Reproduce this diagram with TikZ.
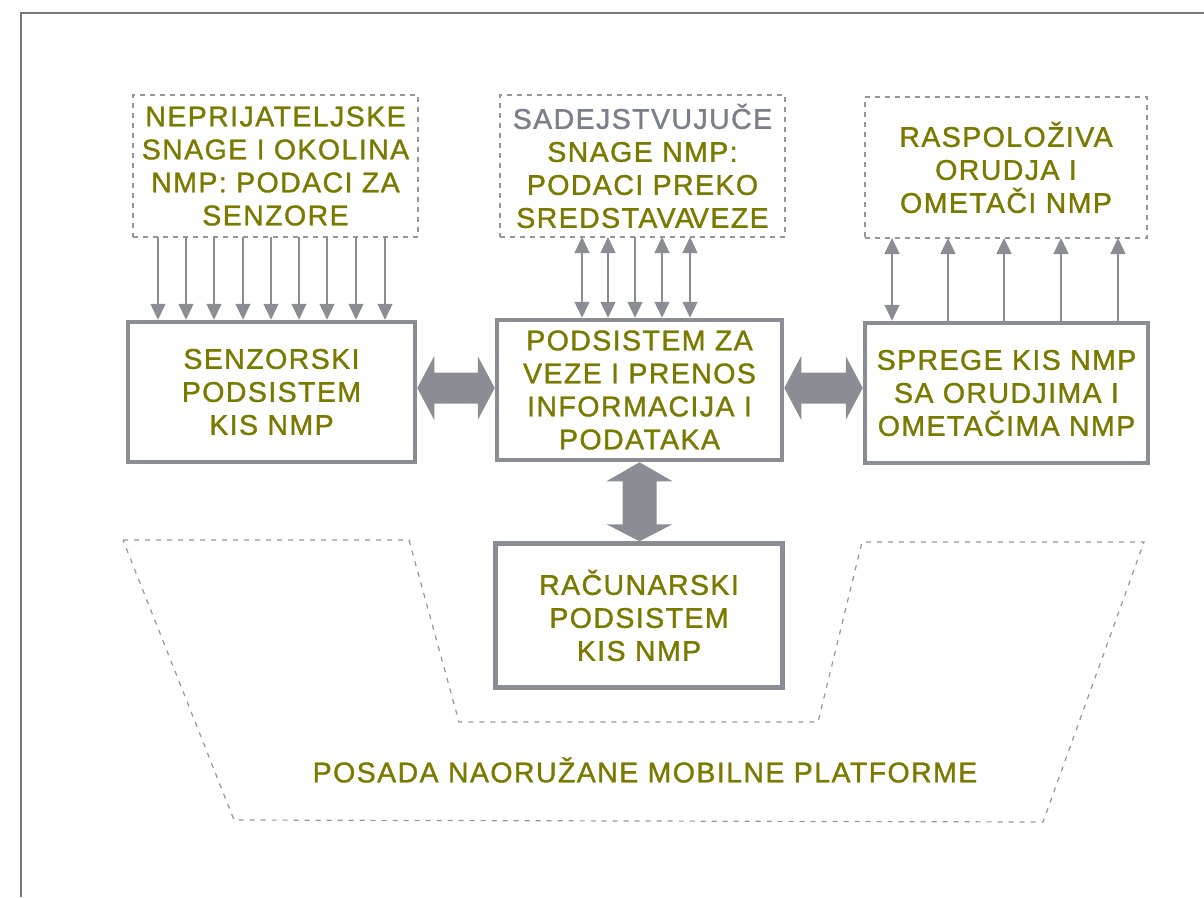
\documentclass[tikz,border=0pt]{standalone}
\usepackage{fontspec}
\setmainfont{Liberation Sans}[LetterSpace=5,FakeBold=1.2]
\usetikzlibrary{arrows.meta,calc}

\definecolor{olivetext}{RGB}{122,122,0}
\definecolor{greytext}{RGB}{122,127,137}
\definecolor{boxgrey}{RGB}{138,141,148}
\definecolor{dashgrey}{RGB}{150,150,150}
\definecolor{framegrey}{RGB}{120,120,120}

\tikzset{
  label text/.style={text=olivetext, font=\fontsize{28.5}{33}\selectfont, align=center, inner sep=0pt},
  solidbox/.style={draw=boxgrey, line width=4.5pt, fill=white, rectangle,
    minimum width=287pt, minimum height=140pt, outer sep=2.25pt, label text},
  dashbox/.style={draw=dashgrey, line width=1.2pt, dash pattern=on 5pt off 5pt,
    rectangle, minimum width=285pt, minimum height=142pt, outer sep=0pt, label text},
  link/.style={draw=boxgrey, line width=1.4pt,
    >={Triangle[width=15pt,length=16pt]}},
  blockarrow/.style={fill=boxgrey},
  crewoutline/.style={draw=dashgrey, line width=1.2pt, dash pattern=on 5pt off 6pt},
}

\begin{document}
\begin{tikzpicture}[x=1pt, y=-1pt]
\useasboundingbox (0,0) rectangle (1204,897);

% outer frame
\draw[framegrey, line width=1.5pt] (21,897) -- (21,13) -- (1204,13);

% external data sources (dashed)
\node[dashbox] (enemy) at (275.5,166) {\raisebox{4pt}{\parbox{280pt}{\centering NEPRIJATELJSKE\\SNAGE I OKOLINA\\NMP: PODACI ZA\\SENZORE}}};
\node[dashbox] (friend) at (642.5,166) {\textcolor{greytext}{SADEJSTVUJUČE}\\SNAGE NMP:\\PODACI PREKO\\SREDSTAVA\hspace{-4pt}VEZE};
\node[dashbox, minimum width=282pt, minimum height=141pt] (weapons) at (1006,167.5) {\raisebox{3pt}{\parbox{278pt}{\centering RASPOLOŽIVA\\ORUDJA I\\OMETAČI NMP}}};

% subsystems
\node[solidbox] (sensor) at (271.5,392) {SENZORSKI\\PODSISTEM\\KIS NMP};
\node[solidbox, minimum width=285pt] (comm) at (639.5,390) {PODSISTEM ZA\\VEZE I PRENOS\\INFORMACIJA I\\PODATAKA};
\node[solidbox, minimum width=283pt] (iface) at (1006.5,393) {SPREGE KIS NMP\\SA ORUDJIMA I\\OMETAČIMA NMP};
\node[solidbox, minimum height=144pt] (comp) at (639,615.5) {RAČUNARSKI\\PODSISTEM\\KIS NMP};

% sensor inputs
\foreach \x in {158,186,214,243,271,299,327,356,385} {
  \path (\x,0) coordinate (px);
  \draw[link, ->] (enemy.south -| px) -- (sensor.north -| px);
}

% radio links
\foreach \x in {582,608,662,690} {
  \path (\x,0) coordinate (px);
  \draw[link, <->] (friend.south -| px) -- (comm.north -| px);
}
\path (635,0) coordinate (px);
\draw[link, ->] (friend.south -| px) -- (comm.north -| px);

% weapon interfaces
\path (892,0) coordinate (px);
\draw[link, <->] (weapons.south -| px) -- (iface.north -| px);
\foreach \x in {948,1004,1061,1118} {
  \path (\x,0) coordinate (px);
  \draw[link, ->] (iface.north -| px) -- (weapons.south -| px);
}

% broad two-way links between subsystems
\fill[blockarrow] let \p1=(sensor.east), \p2=(comm.west) in
  (\x1,\y2+2pt) -- (\x1+17pt,\y2+34pt) -- (\x1+17pt,\y2+17.5pt) -- (\x2-17pt,\y2+17.5pt)
  -- (\x2-17pt,\y2+34pt) -- (\x2,\y2+2pt) -- (\x2-17pt,\y2-30pt) -- (\x2-17pt,\y2-13.5pt)
  -- (\x1+17pt,\y2-13.5pt) -- (\x1+17pt,\y2-30pt) -- cycle;
\fill[blockarrow] let \p1=(comm.east), \p2=(iface.west) in
  (\x1,\y1+2pt) -- (\x1+17pt,\y1+34pt) -- (\x1+17pt,\y1+17.5pt) -- (\x2-17pt,\y1+17.5pt)
  -- (\x2-17pt,\y1+34pt) -- (\x2,\y1+2pt) -- (\x2-17pt,\y1-30pt) -- (\x2-17pt,\y1-13.5pt)
  -- (\x1+17pt,\y1-13.5pt) -- (\x1+17pt,\y1-30pt) -- cycle;
\fill[blockarrow] let \p1=(comm.south), \p2=(comp.north) in
  (\x1,\y1) -- (\x1+33pt,\y1-19pt) -- (\x1+17pt,\y1-19pt) -- (\x1+17pt,\y2+17pt)
  -- (\x1+33pt,\y2+17pt) -- (\x1,\y2) -- (\x1-33pt,\y2+17pt) -- (\x1-17pt,\y2+17pt)
  -- (\x1-17pt,\y1-19pt) -- (\x1-33pt,\y1-19pt) -- cycle;

% crew area
\draw[crewoutline] (123,540) -- (409,540) -- (459,722) -- (818,722) -- (862,542)
  -- (1144,542) -- (1043,822) -- (234,820) -- cycle;
\node[label text] (crew) at (645,770) {POSADA NAORUŽANE MOBILNE PLATFORME};
\end{tikzpicture}
\end{document}
